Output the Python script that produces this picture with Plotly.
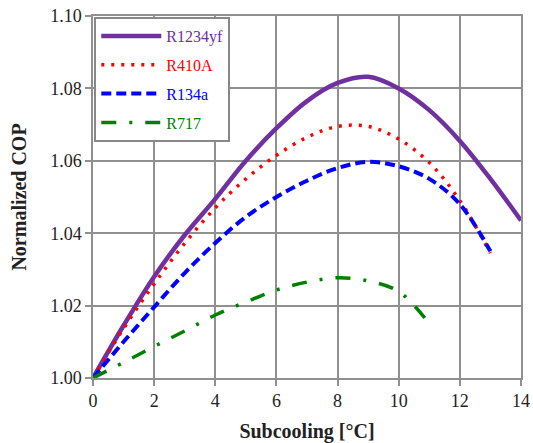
import plotly.graph_objects as go

# Data
x_r1234yf = [0, 1, 2, 3, 4, 5, 6, 7, 8, 9, 10, 11, 12, 13, 14]
y_r1234yf = [1.000, 1.0145, 1.028, 1.0395, 1.0495, 1.060, 1.069, 1.0765, 1.0815, 1.0832,
             1.080, 1.074, 1.0655, 1.055, 1.0435]

x_r410a = [0, 1, 2, 3, 4, 5, 6, 7, 8, 9, 10, 11, 12, 13]
y_r410a = [1.000, 1.0137, 1.026, 1.0372, 1.047, 1.055, 1.0615, 1.0665, 1.0695, 1.0695,
           1.066, 1.0595, 1.049, 1.0345]

x_r134a = [0, 1, 2, 3, 4, 5, 6, 7, 8, 9, 10, 11, 12, 13]
y_r134a = [1.000, 1.010, 1.0196, 1.029, 1.0373, 1.0445, 1.050, 1.0545, 1.058, 1.0597,
           1.0585, 1.055, 1.048, 1.035]

x_r717 = [0, 1, 2, 3, 4, 5, 6, 7, 8, 9, 10, 11]
y_r717 = [1.000, 1.0043, 1.0087, 1.013, 1.0174, 1.021, 1.0243, 1.0265, 1.0277, 1.0268,
          1.0239, 1.015]

x_ticks = [0, 2, 4, 6, 8, 10, 12, 14]
y_ticks = [1.00, 1.02, 1.04, 1.06, 1.08, 1.10]

series = [
    ("R1234yf", x_r1234yf, y_r1234yf, "#7030A0", 4.5, "solid"),
    ("R410A", x_r410a, y_r410a, "#FF0000", 3.5, "3px,7px"),
    ("R134a", x_r134a, y_r134a, "#0000FF", 4, "10px,5px"),
    ("R717", x_r717, y_r717, "#008000", 3.5, "15px,13px,3px,13px"),
]

fig = go.Figure()
for name, xs, ys, col, w, dash in series:
    fig.add_trace(go.Scatter(
        x=xs, y=ys, mode="lines", line_shape="spline",
        line=dict(color=col, width=w, dash=dash),
        name=f'<span style="color:{col}">{name}</span>',
        legendgroup=name,
    ))

font_family = "Liberation Serif"
grid_col = "#909090"
fig.update_layout(
    width=533, height=443,
    margin=dict(l=93, r=12, t=16, b=65),
    paper_bgcolor="white", plot_bgcolor="white",
    font=dict(family=font_family, size=18, color="#222"),
    showlegend=True,
    legend=dict(
        x=0.003, y=0.997, xanchor="left", yanchor="top",
        bgcolor="white", bordercolor="#888", borderwidth=2,
        font=dict(family=font_family, size=16),
        itemwidth=60, tracegroupgap=5,
    ),
    xaxis=dict(
        range=[0, 14], tickvals=x_ticks, ticktext=[str(v) for v in x_ticks],
        tickfont=dict(family=font_family, size=18, color="#222"),
        showgrid=True, gridcolor=grid_col, gridwidth=1.5,
        showline=True, linecolor=grid_col, linewidth=1.5, mirror=True,
        ticks="outside", ticklen=6, tickcolor=grid_col, tickwidth=1.5,
        zeroline=False, automargin=False,
        title=dict(text="<b>Subcooling [°C]</b>",
                   font=dict(family=font_family, size=20), standoff=14),
    ),
    yaxis=dict(
        range=[1.0, 1.1], tickvals=y_ticks, ticktext=[f"{v:.2f}" for v in y_ticks],
        tickfont=dict(family=font_family, size=18, color="#222"),
        showgrid=True, gridcolor=grid_col, gridwidth=1.5,
        showline=True, linecolor=grid_col, linewidth=1.5, mirror=True,
        ticks="outside", ticklen=6, tickcolor=grid_col, tickwidth=1.5,
        zeroline=False, automargin=False,
        title=dict(text="<b>Normalized COP</b>",
                   font=dict(family=font_family, size=20), standoff=18),
    ),
)

fig.write_html("out.html", config={"displayModeBar": False},
               post_script="document.body.style.margin='0px';")
